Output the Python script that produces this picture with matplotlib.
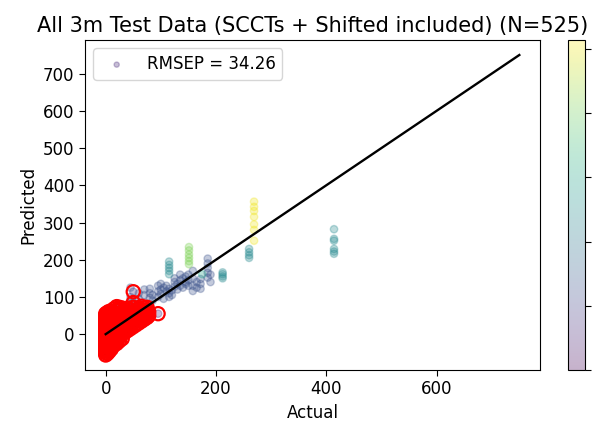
import numpy as np
import matplotlib
matplotlib.use("Agg")
import matplotlib.pyplot as plt

# --- red-circled samples (low range): actual value -> list of predicted values
red_cols = {
    0:  [-56, -50, -45, -40, -35, -30, -25, -20, -15, -10, -5, 0, 5, 10, 15, 20, 25, 30, 35, 40, 45, 50, 55],
    3:  [-52, -42, -32, -22, -12, -2, 8, 18, 28, 38, 48, 58],
    6:  [-47, -37, -27, -17, -7, 3, 13, 23, 33, 43, 53, 61],
    10: [-40, -30, -20, -10, 0, 10, 20, 30, 40, 50, 62],
    15: [-30, -22, -12, 0, 8, 18, 28, 38, 48, 58, 68],
    20: [-25, -15, -5, 5, 15, 25, 35, 45, 55, 65, 74],
    25: [-18, -8, 4, 14, 24, 34, 44, 54, 64, 72],
    30: [-12, 0, 10, 20, 30, 40, 50, 60, 70],
    35: [5, 15, 25, 35, 45, 55, 65],
    40: [10, 20, 30, 40, 50, 60, 70],
    45: [15, 25, 35, 45, 55, 65],
    50: [20, 30, 40, 50, 60, 72, 85, 114],
    55: [25, 35, 45, 55, 65],
    60: [30, 40, 50, 60, 70],
    65: [35, 45, 55, 65, 75],
    70: [40, 50, 60, 70],
    75: [45, 55, 65, 72],
    78: [50, 60],
    95: [55],
}
red_group = 0.6

# --- other samples, by colour group: (actual, [predicted...])
blue_pts = [
    (45, [90, 100, 125]), (60, [95, 110]), (70, [85, 105, 120]),
    (80, [98, 110, 122]), (85, [90, 105]), (95, [100, 115, 130]),
    (100, [108, 120, 135]), (105, [95, 125]), (110, [115, 130]),
    (115, [100, 110, 122]), (120, [105, 118]), (125, [128, 140, 150]),
    (130, [120, 135]), (135, [130, 145, 160]), (140, [125, 150]),
    (145, [135, 140, 155]), (150, [130, 145, 160]), (158, [116, 130, 150, 170]),
    (165, [125, 140]), (172, [122, 135, 148]), (185, [152, 165, 178, 190, 203]),
    (190, [140, 160]),
]
blue_group = 1.3

teal_pts = [
    (115, [161, 170, 178, 186, 195]), (212, [150, 155, 161, 166]),
    (260, [205, 212, 220, 229]), (414, [216, 222, 229, 251, 256, 282]),
]
teal_group = 2.4

mint_pts = [(175, [161])]
mint_group = 3.0

green_pts = [(151, [188, 196, 205, 214, 225, 234])]
green_group = 4.1

yellow_pts = [(269, [251, 280, 295, 315, 331, 342, 356])]
yellow_group = 5.0

rmsep = 34.26
n_samples = 525
line_max = 750
x_ticks = [0, 200, 400, 600]


def flatten(cols, grp):
    xs, ys = [], []
    for a, preds in cols:
        xs += [a] * len(preds)
        ys += preds
    return xs, ys, [grp] * len(xs)


red_x, red_y, red_c = flatten(red_cols.items(), red_group)
actual, pred, group = list(red_x), list(red_y), list(red_c)
for pts, g in [(blue_pts, blue_group), (teal_pts, teal_group), (mint_pts, mint_group),
               (green_pts, green_group), (yellow_pts, yellow_group)]:
    x, y, c = flatten(pts, g)
    actual += x
    pred += y
    group += c

fig = plt.figure(figsize=(6, 4.22), dpi=100)
ax = fig.add_axes([0.1417, 0.1232, 0.7583, 0.782])
cax = fig.add_axes([0.9467, 0.1232, 0.0277, 0.782])

sc = ax.scatter(actual, pred, c=group, cmap="viridis", vmin=0, vmax=5.14,
                s=28, alpha=0.3, label=f"RMSEP = {rmsep:.2f}")
ax.scatter(red_x, red_y, facecolors="none", edgecolors="red", s=90, linewidths=1.6)
ax.plot([0, line_max], [0, line_max], color="black", lw=1.7)

ax.set_xticks(x_ticks)
ax.set_xlabel("Actual", fontsize=12)
ax.set_ylabel("Predicted", fontsize=12)
ax.set_title(f"All 3m Test Data (SCCTs + Shifted included) (N={n_samples})", fontsize=15)
ax.tick_params(labelsize=12, length=4)
ax.legend(loc="upper left", fontsize=12, markerscale=0.7)

cb = fig.colorbar(sc, cax=cax)
cb.set_ticks([0, 1, 2, 3, 4, 5])
cb.set_ticklabels([])
cb.ax.tick_params(length=4)

fig.savefig("out.png", dpi=100)
